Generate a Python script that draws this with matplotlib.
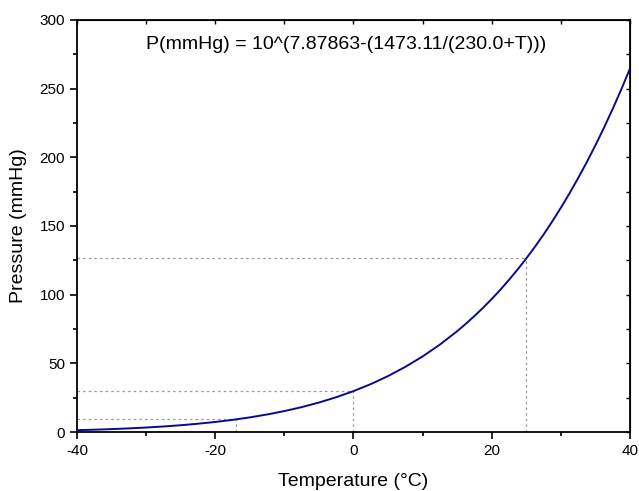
import matplotlib
matplotlib.use("Agg")
import matplotlib.pyplot as plt
from matplotlib.ticker import MultipleLocator

plt.rcParams['font.family'] = ['Liberation Sans', 'DejaVu Sans']
plt.rcParams['axes.unicode_minus'] = False

temperature = [-40, -37.5, -35, -32.5, -30, -27.5, -25, -22.5, -20, -17.5, -15, -12.5,
               -10, -7.5, -5, -2.5, 0, 2.5, 5, 7.5, 10, 12.5, 15, 16.25, 17.5, 18.75,
               20, 21.25, 22.5, 23.75, 25, 26.25, 27.5, 28.75, 30, 31.25, 32.5, 33.75,
               35, 36.25, 37.5, 38.75, 40]
pressure = [1.335, 1.683, 2.110, 2.630, 3.259, 4.018, 4.928, 6.017, 7.309, 8.840, 10.64, 12.76,
            15.23, 18.11, 21.45, 25.32, 29.78, 34.88, 40.74, 47.44, 55.04, 63.66, 73.43, 78.79,
            84.46, 90.49, 96.87, 103.6, 110.8, 118.4, 126.4, 134.9, 143.8, 153.3, 163.3,
            173.8, 184.9, 196.5, 208.8, 221.7, 235.3, 249.6, 264.7]
ref_T = [-17, 0, 25]
ref_P = [9.2, 29.8, 126.4]
equation = "P(mmHg) = 10^(7.87863-(1473.11/(230.0+T)))"

fig = plt.figure(figsize=(6.39, 4.91), dpi=100)
ax = fig.add_axes([77/639, 1 - 432/491, (630-77)/639, (432-20)/491])

for t, p in zip(ref_T, ref_P):
    ax.plot([-40, t], [p, p], color='#999999', lw=0.9, ls=(0, (2, 2.5)), zorder=1)
    ax.plot([t, t], [0, p], color='#999999', lw=0.9, ls=(0, (2, 2.5)), zorder=1)

ax.plot(temperature, pressure, color='#0a0a8c', lw=1.4, zorder=3)

ax.set_xlim(-40, 40)
ax.set_ylim(0, 300)
ax.xaxis.set_major_locator(MultipleLocator(20))
ax.xaxis.set_minor_locator(MultipleLocator(10))
ax.yaxis.set_major_locator(MultipleLocator(50))
ax.yaxis.set_minor_locator(MultipleLocator(25))
ax.tick_params(which='major', direction='out', length=5, width=1.2, labelsize=11, colors='black')
ax.tick_params(which='minor', direction='out', length=3, width=1.2)
for s in ax.spines.values():
    s.set_linewidth(1.3)

axt = ax.secondary_xaxis('top')
axt.xaxis.set_major_locator(MultipleLocator(20))
axt.xaxis.set_minor_locator(MultipleLocator(10))
axt.tick_params(which='both', direction='in', length=3, width=1, labeltop=False)
axr = ax.secondary_yaxis('right')
axr.yaxis.set_major_locator(MultipleLocator(50))
axr.yaxis.set_minor_locator(MultipleLocator(25))
axr.tick_params(which='both', direction='in', length=3, width=1, labelright=False)

ax.set_xlabel('Temperature (°C)', fontsize=14, labelpad=11)
ax.set_ylabel('Pressure (mmHg)', fontsize=14, labelpad=9)
ax.text(0.487, 0.94, equation, transform=ax.transAxes, ha='center', va='center', fontsize=14)

fig.savefig('out.png', dpi=100)
